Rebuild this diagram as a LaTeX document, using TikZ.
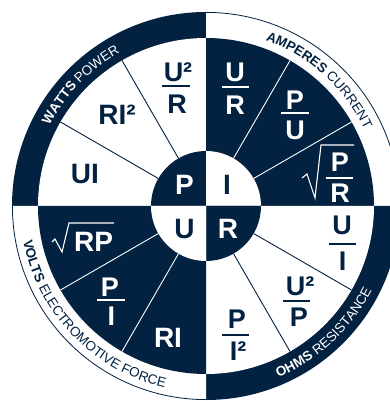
\documentclass[tikz,border=0pt]{standalone}
\usepackage{fontspec}
\setmainfont{Liberation Sans}
\usetikzlibrary{decorations.text}
\definecolor{navy}{RGB}{3,33,64}
\newcommand{\bandfont}{\fontsize{13.5}{14}\selectfont}
\newcommand{\bigfont}{\fontsize{28}{28}\selectfont\bfseries}
\newcommand{\frfont}{\fontsize{27}{27}\selectfont\bfseries}
\begin{document}
\begin{tikzpicture}[x=1pt,y=1pt,
  big/.style={font=\bigfont, inner sep=0pt},
  frc/.style={font=\frfont, inner sep=0pt},
  fbar/.style={line width=1.8pt},
  divider/.style={line width=0.9pt},
  radical/.style={line width=1.1pt, line join=miter},
  bandtext/.style={decorate, decoration={text along path, text align=center, text color=#1}},
]
\useasboundingbox (-206,-195) rectangle (184,206);
\clip (-206,-195) rectangle (184,206);
\fill[white] (-206,-195) rectangle (184,206);

% quadrants: band / segments / centre
\foreach \a/\band/\seg/\inn in {90/navy/white/navy, 0/white/navy/white, -90/navy/white/navy, 180/white/navy/white}
{
  \fill[\band] (0,0) -- (\a:194) arc[start angle=\a, delta angle=90, radius=194] -- cycle;
  \fill[\seg] (0,0) -- (\a:168) arc[start angle=\a, delta angle=90, radius=168] -- cycle;
  \fill[\inn] (0,0) -- (\a:55) arc[start angle=\a, delta angle=90, radius=55] -- cycle;
}
% thin outer rim on the white bands
\draw[navy, line width=0.8pt] (0:193.6) arc[start angle=0, end angle=90, radius=193.6];
\draw[navy, line width=0.8pt] (180:193.6) arc[start angle=180, end angle=270, radius=193.6];

% dividers
\foreach \t in {120,150,-30,-60} \draw[navy, divider] (\t:55) -- (\t:168);
\foreach \t in {30,60,210,240} \draw[white, divider] (\t:55) -- (\t:168);

% centre letters
\node[big, white] (cP) at (-21.5,21) {P};
\node[big, navy] (cI) at (21,21) {I};
\node[big, navy] (cU) at (-21.5,-23) {U};
\node[big, white] (cR) at (22,-23) {R};

% upper left: power
\node[big, navy] (ui) at (-121,32) {UI};
\node[big, navy] (ri2) at (-89,91) {RI²};
\node[frc, navy] (urn) at (-28,133.5) {U²};
\draw[navy, fbar] (-43.5,120) -- (-16.5,120);
\node[frc, navy] (urd) at (-29,102) {R};

% upper right: current
\node[frc, white] (ur2n) at (29,134) {U};
\draw[white, fbar] (15.5,119) -- (42.5,119);
\node[frc, white] (ur2d) at (29,101) {R};
\node[frc, white] (pun) at (89,106) {P};
\draw[white, fbar] (75,93) -- (103,93);
\node[frc, white] (pud) at (89,76) {U};
\node[frc, white] (prn) at (134,43.5) {P};
\draw[white, fbar] (119.5,28) -- (146.5,28);
\node[frc, white] (prd) at (134,13) {R};
\draw[white, radical] (96,28) -- (101,32) -- (109,8) -- (115,61) -- (148,61);

% lower right: resistance
\node[frc, navy] (uin) at (136,-19.5) {U};
\draw[navy, fbar] (122.5,-38) -- (149.5,-38);
\node[frc, navy] (uid) at (136.5,-55) {I};
\node[frc, navy] (upn) at (94,-80) {U²};
\draw[navy, fbar] (77,-95) -- (104,-95);
\node[frc, navy] (upd) at (93,-111.5) {P};
\node[frc, navy] (pin) at (31,-113) {P};
\draw[navy, fbar] (16,-129) -- (43,-129);
\node[frc, navy] (pid) at (32,-145.5) {I²};

% lower left: voltage
\node[big, white] (ri) at (-38,-132) {RI};
\node[frc, white] (pi2n) at (-96,-81) {P};
\draw[white, fbar] (-109,-94) -- (-81,-94);
\node[frc, white] (pi2d) at (-94.5,-110) {I};
\node[big, white] (rp) at (-112.5,-36) {RP};
\draw[white, radical] (-154,-36) -- (-151,-33) -- (-144,-46) -- (-137,-17) -- (-92,-17);

% band captions
\path[bandtext=white, decoration={text={|\bandfont\bfseries|WATTS |\bandfont|POWER}}]
  (172:176) arc[start angle=172, end angle=100, radius=176];
\path[bandtext=navy, decoration={text={|\bandfont\bfseries|AMPERES |\bandfont|CURRENT}}]
  (93:176) arc[start angle=93, end angle=3, radius=176];
\path[bandtext=white, decoration={text={|\bandfont\bfseries|OHMS |\bandfont|RESISTANCE}}]
  (-92:186) arc[start angle=-92, end angle=-2, radius=186];
\path[bandtext=navy, decoration={text={|\bandfont\bfseries|VOLTS |\bandfont|ELECTROMOTIVE FORCE}}]
  (179:186) arc[start angle=179, end angle=269, radius=186];
\end{tikzpicture}
\end{document}
